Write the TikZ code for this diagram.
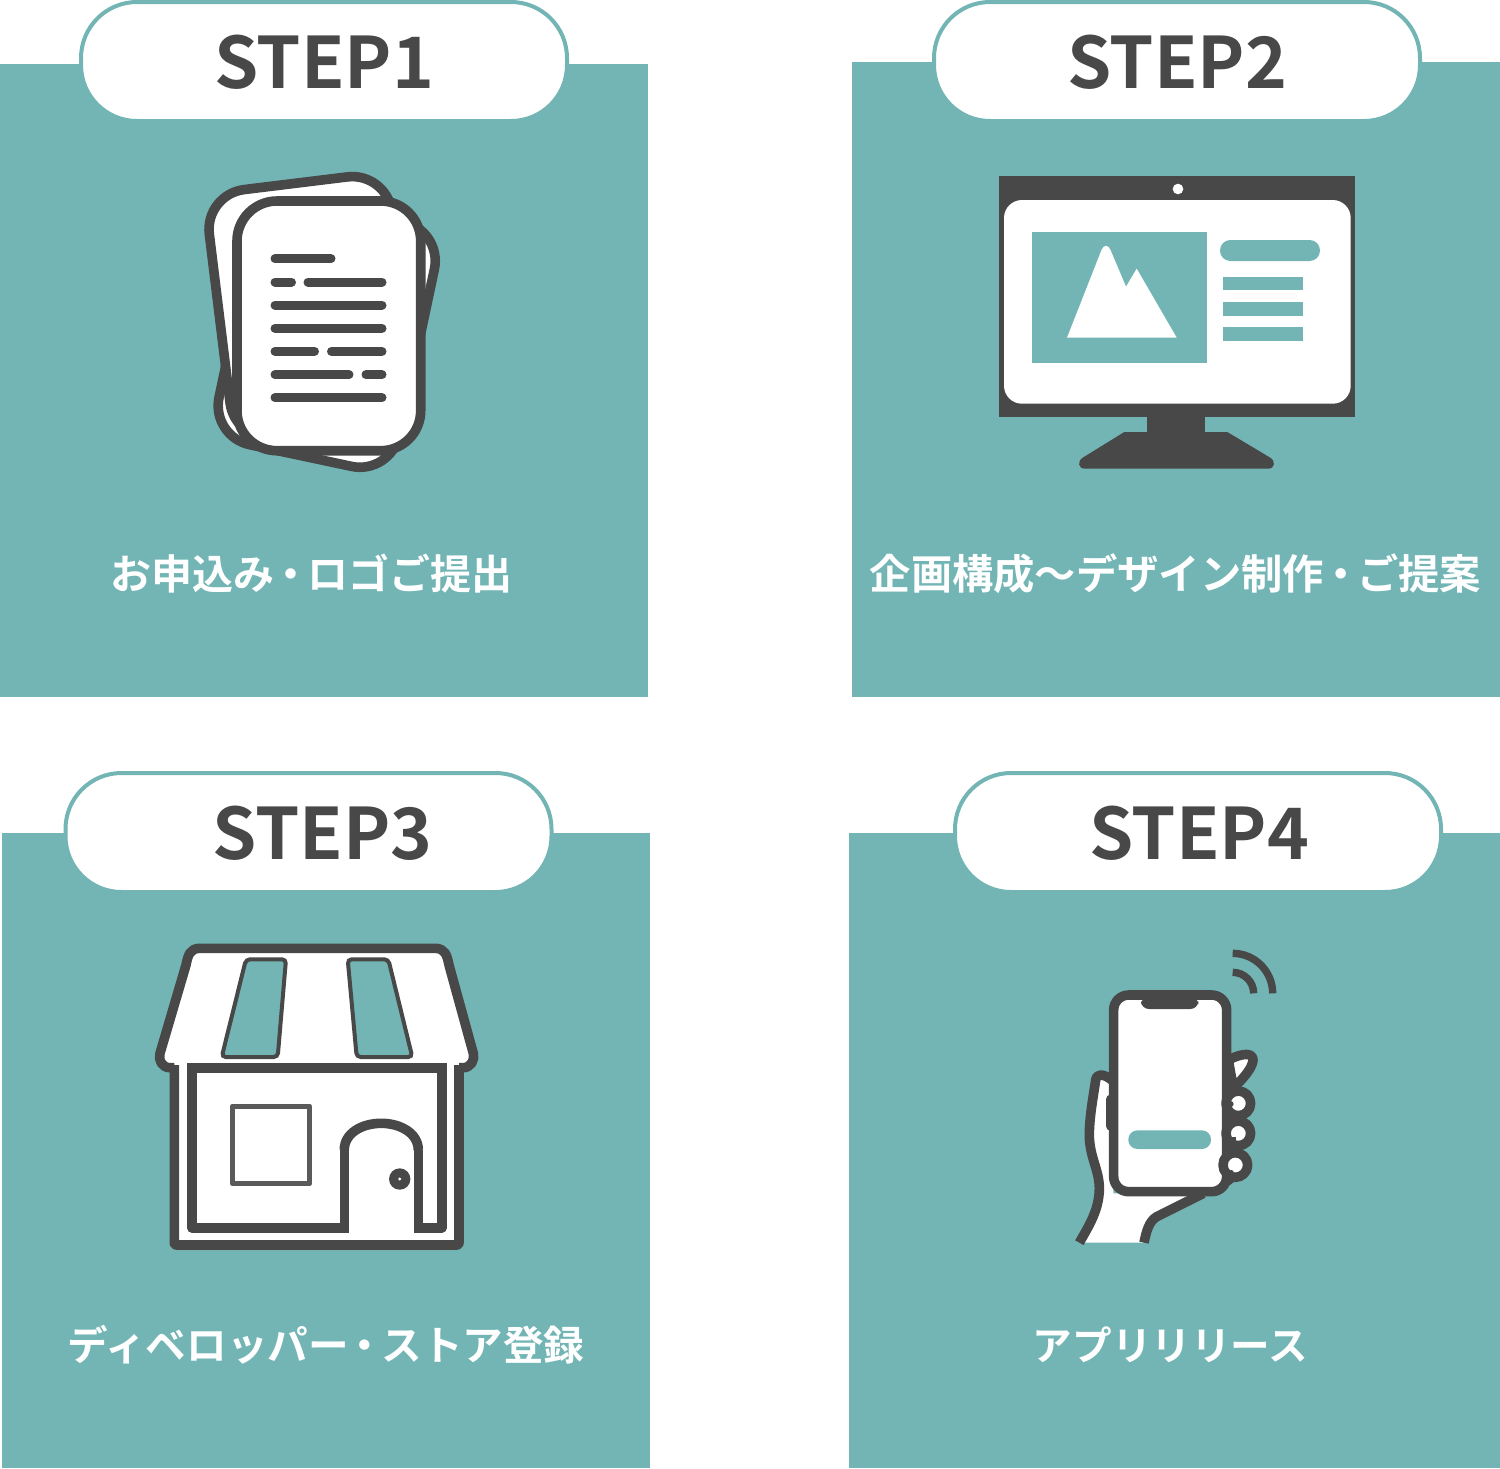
\documentclass[tikz,border=0pt]{standalone}
\usepackage{fontspec}
\newfontfamily\jpb{Noto Sans CJK JP Bold}
\newcommand{\tightdot}{\kern-2pt ・\kern-2pt }
\definecolor{teal1}{HTML}{73B5B5}
\definecolor{dark1}{HTML}{484848}
\tikzset{
 panel/.style={fill=teal1,draw=none},
 pill/.style={fill=white,draw=teal1,line width=2pt,rounded corners=28pt},
 steptitle/.style={font=\jpb\fontsize{35.5}{36}\selectfont,text=dark1,inner sep=0pt,anchor=center},
 caption/.style={font=\jpb\fontsize{20.5}{20.5}\selectfont,text=white,inner sep=0pt,anchor=center},
 ink/.style={draw=dark1,line width=4.8pt,line join=round},
 sheet/.style={ink,fill=white,rounded corners=20pt},
 textline/.style={draw=dark1,line width=4.5pt,line cap=round},
 tealfill/.style={fill=teal1,draw=none},
 darkfill/.style={fill=dark1,draw=none},
 whitefill/.style={fill=white,draw=none},
}
\begin{document}
\begin{tikzpicture}[x=0.5pt,y=-0.5pt]
\useasboundingbox (0,0) rectangle (1500,1468);
% panels
\fill[panel] (0,64) rectangle (648,697);
\fill[panel] (852,62) rectangle (1500,697);
\fill[panel] (2,833) rectangle (650,1468);
\fill[panel] (849,833) rectangle (1500,1468);
% pills
\draw[pill] (81,2) rectangle (567,121);
\draw[pill] (934,2) rectangle (1420,121);
\draw[pill] (65.5,773) rectangle (551.5,892);
\draw[pill] (955,773) rectangle (1441,892);
\node[steptitle] (s1) at (324,62) {STEP1};
\node[steptitle] (s2) at (1177,62) {STEP2};
\node[steptitle] (s3) at (322.5,833) {STEP3};
\node[steptitle] (s4) at (1199,833) {STEP4};
\node[caption] (c1) at (311,574) {お申込み\tightdot ロゴご提出};
\node[caption,font=\jpb\fontsize{20.65}{20.65}\selectfont] (c2) at (1175.5,574) {企画構成〜デザイン制作\tightdot ご提案};
\node[caption,font=\jpb\fontsize{20.3}{20.3}\selectfont] (c3) at (326,1345) {ディベロッパー\tightdot ストア登録};
\node[caption,font=\jpb\fontsize{19.8}{19.8}\selectfont] (c4) at (1170.5,1345) {アプリリリース};
% --- STEP1 documents
\begin{scope}[shift={(326.7,333.3)},rotate=-12]
\draw[sheet] (-92,-125) rectangle (92,125);
\end{scope}
\begin{scope}[shift={(311,307.3)},rotate=7]
\draw[sheet] (-92,-125) rectangle (92,125);
\end{scope}
\draw[sheet] (237,201) rectangle (420.7,450.7);
\foreach \yy/\xa/\xb in {258.7/275/331,282/275/291.5,282/308/382,305/275/382,328.3/275/382,351.3/275/314.5,351.3/331.5/382,374.7/275/349,374.7/366/382,397.7/275/382}
  \draw[textline] (\xa,\yy) -- (\xb,\yy);
% --- STEP2 monitor
\fill[darkfill] (998.7,176) rectangle (1355,416.7);
\fill[whitefill] (1178,189) circle[radius=5.3];
\fill[whitefill,rounded corners=9pt] (1004,200) rectangle (1350.7,403.7);
\fill[tealfill] (1032.3,232) rectangle (1207,362.7);
\fill[whitefill] (1067,337.7) -- (1101.5,250) .. controls (1103.5,244.5) and (1108.5,244.5) .. (1110.5,250) -- (1126,286.7) -- (1136.7,268.7) -- (1176.7,337.7) -- cycle;
\fill[tealfill,rounded corners=5.2pt] (1220,240) rectangle (1320,261);
\fill[tealfill] (1223,277) rectangle (1303.3,290.3);
\fill[tealfill] (1223,302.3) rectangle (1303.3,315.7);
\fill[tealfill] (1223,327.3) rectangle (1303.3,340.7);
\fill[darkfill] (1146.7,416) rectangle (1205.3,433);
\fill[darkfill] (1124.3,432) -- (1227.3,432) -- (1270,457.5) .. controls (1276,461) and (1275,468.7) .. (1268,468.7) -- (1085,468.7) .. controls (1078,468.7) and (1077,461) .. (1083,457.5) -- cycle;
% --- STEP3 store
\fill[whitefill] (193.3,948.3) -- (441.7,948.3) -- (473.3,1053.3) -- (465,1067.7) -- (459,1067.7) -- (459,1245) -- (174.3,1245) -- (174.3,1067.7) -- (168.3,1067.7) -- (160,1053.3) -- cycle;
\draw[ink] (174.3,1067.7) -- (170,1067.7) .. controls (162,1067.7) and (158,1060) .. (160,1053.3) -- (186,965) .. controls (188,955) and (190,948.3) .. (200,948.3) -- (435,948.3) .. controls (445,948.3) and (447,955) .. (449,965) -- (473.3,1053.3) .. controls (475,1060) and (471,1067.7) .. (463,1067.7) -- (459,1067.7);
\draw[ink,rounded corners=1pt] (174.3,1065) -- (174.3,1245) -- (459,1245) -- (459,1065);
\draw[ink] (344.3,1150) -- (344.3,1227.7) -- (191.7,1227.7) -- (191.7,1067.7) -- (442,1067.7) -- (442,1227.7) -- (418.3,1227.7) -- (418.3,1150);
\fill[darkfill] (186.9,1062.9) rectangle (446.8,1072.5);
\fill[darkfill] (339.5,1222.9) rectangle (349.1,1232.5);
\fill[darkfill] (413.5,1222.9) rectangle (423.1,1232.5);
\draw[ink] (344.3,1150) .. controls (344.3,1133) and (362,1123.3) .. (381.3,1123.3) .. controls (400,1123.3) and (418.3,1133) .. (418.3,1150);
\draw[draw=dark1!90!white,line width=2.5pt,line join=round,fill=white] (232.3,1106) rectangle (309.7,1183.7);
\draw[draw=dark1,line width=2pt,fill=teal1,rounded corners=2pt] (246,959.3) -- (286,959.3) -- (277.7,1057) -- (221.7,1057) -- cycle;
\draw[draw=dark1,line width=2pt,fill=teal1,rounded corners=2pt] (347.7,959.3) -- (388.3,959.3) -- (412.3,1057) -- (356.7,1057) -- cycle;
\fill[darkfill] (399.7,1179) circle[radius=10.7];
\fill[whitefill] (399.7,1179) circle[radius=1.6];
% --- STEP4 phone and hand
\begin{scope}[shift={(1060,940)},scale=1/3]
% wifi
\draw[draw=dark1,line width=3.7pt] (518,40) arc[start angle=90,end angle=0,x radius=120,y radius=-120];
\draw[draw=dark1,line width=3.7pt] (518,97) arc[start angle=90,end angle=0,x radius=63,y radius=-63];
% hand
\fill[whitefill] (58,908) .. controls (85,860) and (118,810) .. (118,745) .. controls (118,690) and (88,650) .. (88,585) .. controls (88,530) and (100,470) .. (107,420) .. controls (110,400) and (130,400) .. (155,420) -- (160,760) -- (430,760) -- (290,830) .. controls (265,845) and (258,880) .. (252,908) -- cycle;
\draw[ink] (58,908) .. controls (85,860) and (118,810) .. (118,745) .. controls (118,690) and (88,650) .. (88,585) .. controls (88,530) and (100,470) .. (107,420) .. controls (110,400) and (130,400) .. (155,420);
\draw[ink] (430,760) -- (290,830) .. controls (265,845) and (258,880) .. (252,908);
\draw[draw=dark1,line width=4.8pt,line cap=round] (152,478) -- (152,558);
% leaf finger
\draw[ink,fill=white] (505,360) .. controls (530,347) and (560,338) .. (573,347) .. controls (592,360) and (565,402) .. (520,444) -- cycle;
% phone
\draw[ink,fill=white,rounded corners=7.5pt] (161,165) rectangle (500,755);
\fill[darkfill,rounded corners=4pt] (243,170) -- (415,170) -- (415,207) -- (243,207) -- cycle;
\fill[tealfill,rounded corners=4.5pt] (205,571) rectangle (453,627);
% fingers
\draw[ink,fill=white] (535,490) circle[radius=37];
\draw[ink,fill=white] (535,580) circle[radius=37];
\draw[ink,fill=white] (526,675) circle[radius=37];
\fill[darkfill] (512,492) circle[radius=9];
\fill[darkfill] (488,590) rectangle (528,612);
\fill[darkfill] (514,697) circle[radius=7];
\fill[darkfill] (495,712) -- (540,712) -- (510,735) -- (495,735) -- cycle;
\end{scope}
\end{tikzpicture}
\end{document}
